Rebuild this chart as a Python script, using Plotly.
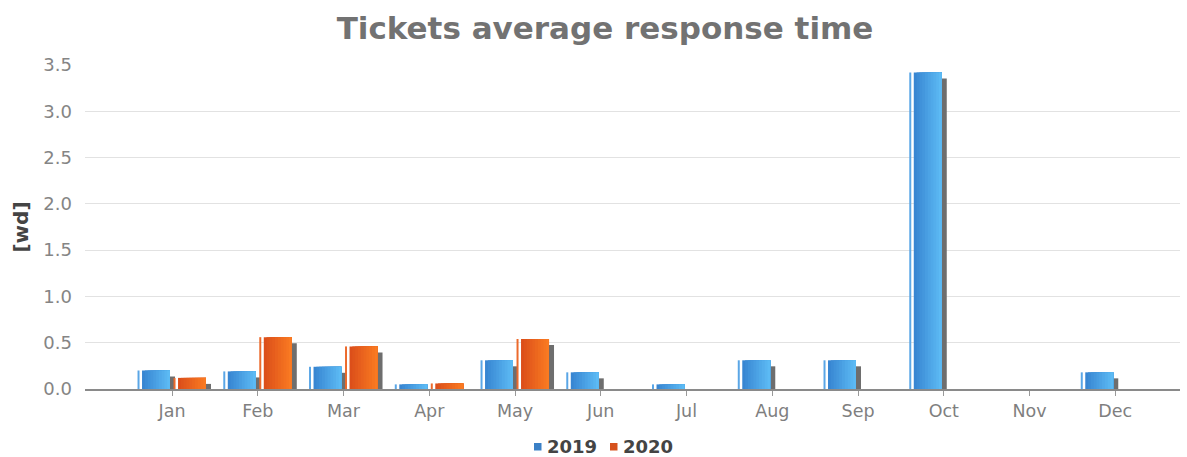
import plotly.graph_objects as go

# data
months = ['Jan', 'Feb', 'Mar', 'Apr', 'May', 'Jun', 'Jul', 'Aug', 'Sep', 'Oct', 'Nov', 'Dec']
resp_2019 = [0.20, 0.19, 0.24, 0.05, 0.31, 0.18, 0.05, 0.31, 0.31, 3.42, None, 0.18]
resp_2020 = [0.12, 0.56, 0.46, 0.06, 0.54, None, None, None, None, None, None, None]
y_ticks = [0.0, 0.5, 1.0, 1.5, 2.0, 2.5, 3.0, 3.5]
series_names = ['2019', '2020']
legend_colors = ['#3b80c6', '#d6521d']

PX = 1 / 85.75          # one pixel in category units
N_STRIPS = 10           # fake left->right gradient
PLOT_W, PLOT_H = 1095, 324


def mix(c1, c2, t):
    a = [int(c1[i:i + 2], 16) for i in (1, 3, 5)]
    b = [int(c2[i:i + 2], 16) for i in (1, 3, 5)]
    return '#' + ''.join('%02x' % round(a[k] + (b[k] - a[k]) * t) for k in range(3))


def add_series(fig, values, start, dark, light, thin):
    '''Draws one series: drop shadow, thin edge line, gradient body.'''
    x = list(range(len(months)))
    body_w = 28 * PX
    shadow = [None if v is None else max(v - 0.065, 0) for v in values]
    fig.add_trace(go.Bar(x=x, y=shadow, width=body_w, offset=(start + 9.5) * PX,
                         marker=dict(color='#6e6e6e', line_width=0),
                         showlegend=False, hoverinfo='skip'))
    fig.add_trace(go.Bar(x=x, y=values, width=2 * PX, offset=start * PX,
                         marker=dict(color=thin, line_width=0),
                         showlegend=False, hoverinfo='skip'))
    # each strip runs to the right end of the body, later ones cover earlier ones
    sw = body_w / N_STRIPS
    for i in range(N_STRIPS):
        fig.add_trace(go.Bar(x=x, y=values, width=body_w - i * sw,
                             offset=(start + 4.5) * PX + i * sw,
                             marker=dict(color=mix(dark, light, i / (N_STRIPS - 1)), line_width=0),
                             showlegend=False, hoverinfo='skip'))


fig = go.Figure()
add_series(fig, resp_2019, -34.5, '#3886d2', '#5cbaf4', '#5aa6e6')
add_series(fig, resp_2020, 1.5, '#dc4f1a', '#f97a22', '#ec6a2c')

# legend drawn by hand: small square + label, positions in page pixels
legend_x = [534, 610]
for name, col, px0 in zip(series_names, legend_colors, legend_x):
    fig.add_shape(type='rect', xref='paper', yref='paper', line_width=0, fillcolor=col,
                  x0=(px0 - 85) / PLOT_W, x1=(px0 + 7.5 - 85) / PLOT_W,
                  y0=(389 - 443) / PLOT_H, y1=(389 - 450.5) / PLOT_H)
    fig.add_annotation(text='<b>' + name + '</b>', xref='paper', yref='paper',
                       x=(px0 + 11 - 85) / PLOT_W, y=(389 - 446.5) / PLOT_H,
                       xanchor='left', yanchor='middle', showarrow=False,
                       font=dict(size=18, color='#444444'))

fig.update_layout(
    width=1187, height=457,
    barmode='overlay',
    showlegend=False,
    plot_bgcolor='white', paper_bgcolor='white',
    margin=dict(l=85, r=7, t=65, b=68, autoexpand=False),
    font=dict(family='DejaVu Sans', color='#888888', size=17),
    title=dict(text='<b>Tickets average response time</b>', x=0.5097, xanchor='center',
               y=1 - 28 / 457, yanchor='middle',
               font=dict(size=31, color='#727272', family='DejaVu Sans')),
    xaxis=dict(
        tickmode='array', tickvals=list(range(len(months))), ticktext=months,
        range=[-1.015, 11.755], showgrid=False, zeroline=False,
        showline=True, linecolor='#8a8a8a', linewidth=1.5,
        ticks='outside', ticklen=5, tickcolor='#999999',
        tickfont=dict(size=17.5, color='#7f7f7f'), ticklabelstandoff=0,
    ),
    yaxis=dict(
        range=[0, 3.5], tickvals=y_ticks, ticktext=['%.1f' % v for v in y_ticks],
        showgrid=True, gridcolor='#e2e2e2', gridwidth=1, zeroline=False,
        showline=False, ticklabelstandoff=12,
        tickfont=dict(size=18, color='#858585'),
        title=dict(text='<b>[wd]</b>', standoff=9, font=dict(size=20, color='#444444')),
    ),
    hovermode=False,
)

fig.write_html("out.html", config={'displayModeBar': False},
               post_script="document.body.style.margin='0px';")
